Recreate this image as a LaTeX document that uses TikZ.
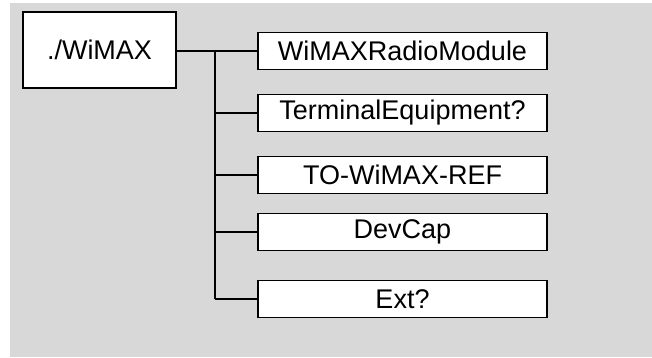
\documentclass[tikz,border=0pt]{standalone}
\usepackage{fontspec}
\setmainfont{Liberation Sans}
\definecolor{bggray}{RGB}{216,216,216}
\tikzset{
  box/.style={draw=black, fill=white, line width=1.2pt, inner sep=0pt, font=\fontsize{27}{32}\selectfont},
  childbox/.style={box, minimum width=289pt, minimum height=37pt},
  conn/.style={draw=black, line width=1.5pt}
}
\begin{document}
\begin{tikzpicture}[x=1pt, y=-1pt]
\useasboundingbox (0,0) rectangle (652,358);
\fill[bggray] (10,3) rectangle (652,357);
\node[box, minimum width=153pt, minimum height=76pt] (main) at (99.5,50) {./WiMAX};
\node[childbox] (c1) at (402.5,51) {WiMAXRadioModule};
\node[childbox] (c2) at (402.5,113) {TerminalEquipment?};
\node[childbox] (c3) at (402.5,175) {TO-WiMAX-REF};
\node[childbox] (c4) at (402.5,232) {DevCap};
\node[childbox] (c5) at (402.5,299) {Ext?};
\coordinate (sp) at (215,0);
\draw[conn] (main.east |- c1.west) -- (c1.west);
\draw[conn] (sp |- c1.west) -- (sp |- c5.west);
\draw[conn] (sp |- c2.west) -- (c2.west);
\draw[conn] (sp |- c3.west) -- (c3.west);
\draw[conn] (sp |- c4.west) -- (c4.west);
\draw[conn] (sp |- c5.west) -- (c5.west);
\end{tikzpicture}
\end{document}
